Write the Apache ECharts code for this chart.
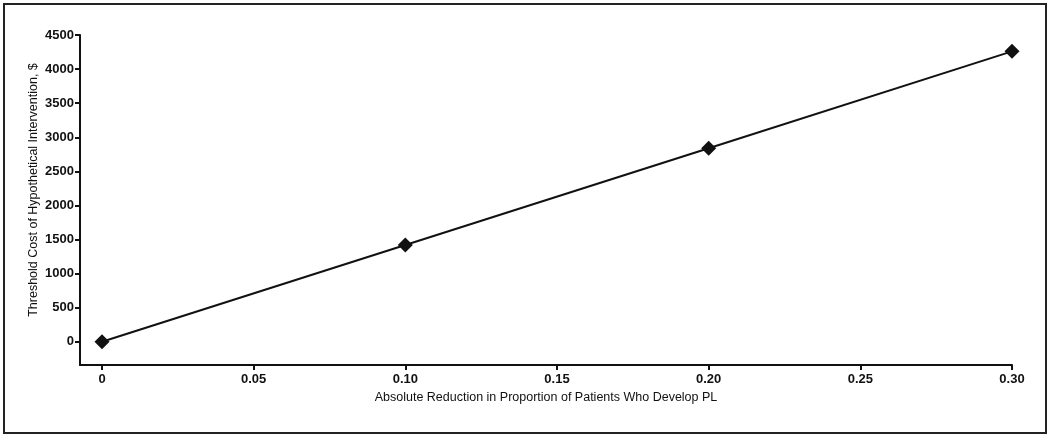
<!DOCTYPE html>
<html><head><meta charset="utf-8">
<script src="https://cdn.jsdelivr.net/npm/echarts@6/dist/echarts.min.js"></script>
<style>
html,body{margin:0;padding:0;background:#fff;}
#frame{position:absolute;left:3px;top:3px;width:1040px;height:427px;border:2px solid #222;box-sizing:content-box;}
#c{position:absolute;left:0;top:0;width:1050px;height:437px;}
</style></head><body>
<div id="frame"></div>
<div id="c"></div>
<script>
var xValues = [0, 0.10, 0.20, 0.30];
var yValues = [0, 1420, 2840, 4260];
var xTicks = [0, 0.05, 0.10, 0.15, 0.20, 0.25, 0.30];
var xTickLabels = ['0', '0.05', '0.10', '0.15', '0.20', '0.25', '0.30'];
var yTicks = [0, 500, 1000, 1500, 2000, 2500, 3000, 3500, 4000, 4500];
var xTitle = 'Absolute Reduction in Proportion of Patients Who Develop PL';
var yTitle = 'Threshold Cost of Hypothetical Intervention, $';

var font = '"Liberation Sans", Arial, sans-serif';
var chart = echarts.init(document.getElementById('c'));
chart.setOption({
  animation: false,
  grid: {left: 80, right: 38, top: 35, bottom: 72, containLabel: false},
  graphic: [{
    type: 'text', x: 34, y: 190, rotation: Math.PI / 2,
    style: {text: yTitle, fontFamily: font, fontSize: 12.5, fill: '#111', align: 'center', verticalAlign: 'middle'}
  }],
  xAxis: {
    type: 'value', min: -0.00725, max: 0.30,
    name: xTitle, nameLocation: 'middle', nameGap: 20,
    nameTextStyle: {fontFamily: font, fontSize: 12.5, color: '#111'},
    axisLine: {show: true, onZero: false, lineStyle: {color: '#111', width: 2}},
    axisTick: {show: true, length: 5, lineStyle: {color: '#111', width: 2}, customValues: xTicks},
    axisLabel: {fontFamily: font, fontSize: 13, fontWeight: 'bold', color: '#111', margin: 8,
      customValues: xTicks,
      formatter: function (v) { var i = xTicks.findIndex(function (t) { return Math.abs(t - v) < 1e-9; }); return i >= 0 ? xTickLabels[i] : ''; }},
    splitLine: {show: false}
  },
  yAxis: {
    type: 'value', min: -340, max: 4500,
    axisLine: {show: true, onZero: false, lineStyle: {color: '#111', width: 2}},
    axisTick: {show: true, length: 5, lineStyle: {color: '#111', width: 2}, customValues: yTicks},
    axisLabel: {fontFamily: font, fontSize: 13, fontWeight: 'bold', color: '#111', margin: 6, customValues: yTicks,
      formatter: function (v) { return String(v); }},
    splitLine: {show: false}
  },
  series: [{
    type: 'line',
    data: xValues.map(function (x, i) { return [x, yValues[i]]; }),
    symbol: 'diamond', symbolSize: 15,
    lineStyle: {color: '#111', width: 2},
    itemStyle: {color: '#111'}
  }]
});
</script>
</body></html>
